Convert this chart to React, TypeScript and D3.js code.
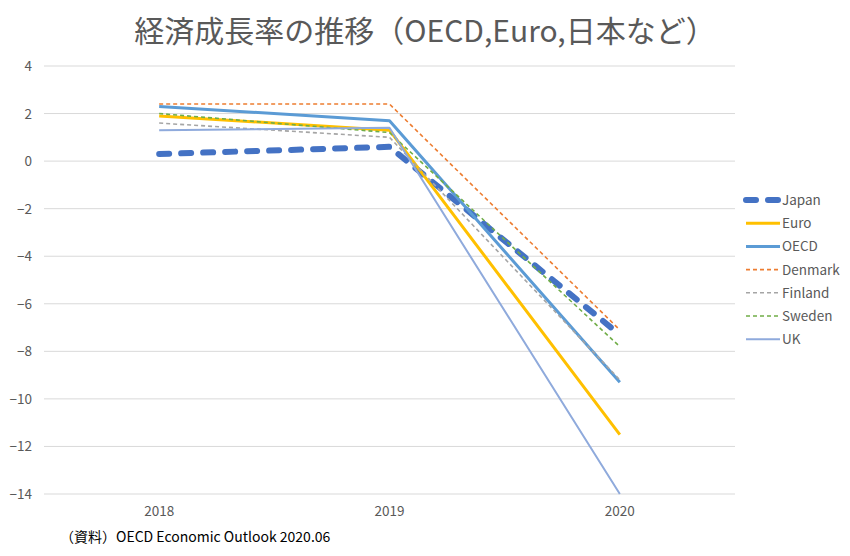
import React from "react";
import * as d3 from "d3";

const years = ["2018", "2019", "2020"];
const seriesNames = ["Japan", "Euro", "OECD", "Denmark", "Finland", "Sweden", "UK"];
const japan = [0.3, 0.6, -7.3];
const euro = [1.9, 1.3, -11.5];
const oecd = [2.3, 1.7, -9.3];
const denmark = [2.4, 2.4, -7.1];
const finland = [1.6, 1.0, -9.2];
const sweden = [2.0, 1.2, -7.8];
const uk = [1.3, 1.4, -14.0];
const yTicks = [4, 2, 0, -2, -4, -6, -8, -10, -12, -14];

const values = [japan, euro, oecd, denmark, finland, sweden, uk];
const styles = [
  { color: "#4472C4", width: 6, dash: "10 12", cap: "round" },
  { color: "#FFC000", width: 3, dash: "", cap: "butt" },
  { color: "#5B9BD5", width: 3, dash: "", cap: "butt" },
  { color: "#ED7D31", width: 1.6, dash: "4 3", cap: "butt" },
  { color: "#A5A5A5", width: 1.6, dash: "4 3", cap: "butt" },
  { color: "#70AD47", width: 1.6, dash: "4 3", cap: "butt" },
  { color: "#8FAADC", width: 2, dash: "", cap: "butt" },
];

const W = 850, H = 556;
const left = 44, right = 735, top = 66, bottom = 494;
const font = "'Noto Sans CJK JP', 'Noto Sans', sans-serif";

export default function App() {
  const x = d3.scaleBand<string>().domain(years).range([left, right]);
  const y = d3.scaleLinear().domain([-14, 4]).range([bottom, top]);
  const line = d3
    .line<number>()
    .x((_, i) => (x(years[i]) as number) + x.bandwidth() / 2)
    .y((d) => y(d));

  return (
    <svg width={W} height={H} style={{ position: "absolute", left: 0, top: 0, background: "#fff" }}>
      <text x={425} y={42} textAnchor="middle" fontSize={30} fill="#595959" fontFamily={font}>
        経済成長率の推移（OECD,Euro,日本など）
      </text>
      {yTicks.map((t) => (
        <g key={t}>
          <line x1={left} x2={right} y1={y(t)} y2={y(t)} stroke="#D9D9D9" strokeWidth={1} />
          <text x={32} y={y(t) + 5} textAnchor="end" fontSize={13.5} fill="#595959" fontFamily={font}>
            {t < 0 ? "−" + Math.abs(t) : t}
          </text>
        </g>
      ))}
      {years.map((yr) => (
        <text key={yr} x={(x(yr) as number) + x.bandwidth() / 2} y={516} textAnchor="middle" fontSize={13.5} fill="#595959" fontFamily={font}>
          {yr}
        </text>
      ))}
      {values.map((v, i) => (
        <path
          key={seriesNames[i]}
          d={line(v) as string}
          fill="none"
          stroke={styles[i].color}
          strokeWidth={styles[i].width}
          strokeDasharray={styles[i].dash || undefined}
          strokeLinecap={styles[i].cap as any}
          strokeLinejoin="round"
        />
      ))}
      {seriesNames.map((n, i) => {
        const ly = 200 + i * 23.2;
        return (
          <g key={n}>
            <line x1={746} x2={780} y1={ly} y2={ly} stroke={styles[i].color} strokeWidth={styles[i].width}
              strokeDasharray={i === 0 ? "10 12" : styles[i].dash || undefined}
              strokeLinecap={styles[i].cap as any} />
            <text x={782} y={ly + 5} fontSize={13.5} fill="#595959" fontFamily={font}>{n}</text>
          </g>
        );
      })}
      <text x={60} y={542} fontSize={14} fill="#000" fontFamily={font}>（資料）OECD Economic Outlook 2020.06</text>
    </svg>
  );
}
